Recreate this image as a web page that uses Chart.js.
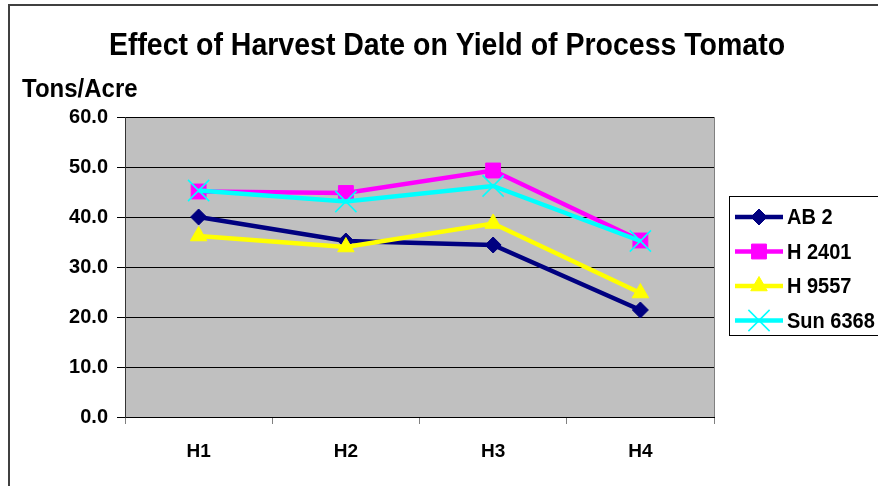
<!DOCTYPE html>
<html lang="en">
<head>
  <meta charset="UTF-8">
  <title>Effect of Harvest Date on Yield of Process Tomato</title>
  <script src="https://cdn.jsdelivr.net/npm/chart.js"></script>
  <style>
    body { margin: 0; background: #fff; }
    #wrap { width: 878px; height: 486px; }
  </style>
</head>
<body>
  <div id="wrap"><canvas id="yieldChart" width="878" height="486"></canvas></div>

<script>
  const harvests = ['H1', 'H2', 'H3', 'H4'];
  const ab2 = [40.0, 35.2, 34.4, 21.4];
  const h2401 = [45.1, 44.8, 49.3, 35.3];
  const h9557 = [36.2, 34.0, 38.7, 24.8];
  const sun6368 = [45.3, 43.1, 46.2, 35.2];
  const yTicks = [0, 10, 20, 30, 40, 50, 60];

  const FONT = "'Liberation Sans', Arial, sans-serif";

  // text in the original is a little taller than wide
  function tallText(c, txt, x, y, sy) {
    c.save();
    c.translate(x, y);
    c.scale(1, sy);
    c.fillText(txt, 0, 0);
    c.restore();
  }

  // background, frame, title, y label and legend
  const decor = {
    id: 'decor',
    beforeDraw(chart) {
      const c = chart.ctx, a = chart.chartArea;
      c.save();
      c.fillStyle = '#fff';
      c.fillRect(0, 0, chart.width, chart.height);
      c.fillStyle = '#C0C0C0';
      c.fillRect(a.left, a.top, a.right - a.left, a.bottom - a.top);
      c.strokeStyle = '#404040';
      c.lineWidth = 2;
      c.beginPath();
      c.moveTo(9, 490); c.lineTo(9, 5); c.lineTo(880, 5);
      c.stroke();
      c.restore();
    },
    afterDraw(chart) {
      const c = chart.ctx, a = chart.chartArea;
      c.save();
      c.strokeStyle = '#808080';
      c.lineWidth = 1;
      c.beginPath();
      c.moveTo(a.right + 0.5, a.top); c.lineTo(a.right + 0.5, a.bottom);
      c.stroke();

      c.fillStyle = '#000';
      c.textBaseline = 'alphabetic';
      c.font = 'bold 28.5px ' + FONT;
      c.textAlign = 'center';
      tallText(c, 'Effect of Harvest Date on Yield of Process Tomato', 447, 55, 1.12);
      c.font = 'bold 24px ' + FONT;
      c.textAlign = 'left';
      tallText(c, 'Tons/Acre', 22, 97, 1.08);

      // legend
      c.strokeStyle = '#000';
      c.lineWidth = 1;
      c.strokeRect(729.5, 196.5, 160, 139);
      c.font = 'bold 20px ' + FONT;
      c.textBaseline = 'middle';
      chart.data.datasets.forEach((ds, i) => {
        const y = 217 + i * 34.5;
        c.strokeStyle = ds.borderColor;
        c.lineWidth = ds.borderWidth;
        c.beginPath();
        c.moveTo(735, y); c.lineTo(783, y);
        c.stroke();
        c.fillStyle = ds.pointBackgroundColor;
        c.strokeStyle = ds.pointBorderColor;
        c.lineWidth = ds.pointBorderWidth;
        Chart.helpers.drawPoint(c, { pointStyle: ds.pointStyle, radius: ds.pointRadius, borderWidth: ds.pointBorderWidth, rotation: 0 }, 759, y);
        c.fillStyle = '#000';
        tallText(c, ds.label, 787, y + 1, 1.1);
      });
      c.restore();
    }
  };

  function series(label, values, color, style, radius, order) {
    return {
      label, data: values, order,
      borderColor: color, borderWidth: 4.5,
      pointStyle: style, pointRadius: radius, pointHoverRadius: radius,
      pointBackgroundColor: color, pointBorderColor: color,
      pointBorderWidth: style === 'crossRot' ? 1.5 : 1,
      tension: 0
    };
  }

  new Chart(document.getElementById('yieldChart'), {
    type: 'line',
    data: {
      labels: harvests,
      datasets: [
        series('AB 2', ab2, '#000080', 'rectRot', 8, 4),
        series('H 2401', h2401, '#FF00FF', 'rect', 10.5, 3),
        series('H 9557', h9557, '#FFFF00', 'triangle', 9.5, 2),
        series('Sun 6368', sun6368, '#00FFFF', 'crossRot', 15, 1)
      ]
    },
    options: {
      responsive: false,
      animation: false,
      events: [],
      layout: { padding: { top: 117, left: 0, right: 164, bottom: 0 } },
      plugins: { legend: { display: false }, title: { display: false }, tooltip: { enabled: false } },
      scales: {
        x: {
          offset: true,
          grid: { offset: true, drawOnChartArea: false, color: '#808080', tickLength: 7 },
          border: { color: '#000', width: 1 },
          ticks: { color: '#000', padding: 16, font: { family: FONT, size: 19, weight: 'bold' } },
          afterFit(scale) { scale.height = 69; }
        },
        y: {
          min: 0, max: 60,
          afterBuildTicks(scale) { scale.ticks = yTicks.map(v => ({ value: v })); },
          grid: { color: '#000', tickLength: 8 },
          border: { color: '#333', width: 1 },
          ticks: {
            color: '#000', padding: 9,
            font: { family: FONT, size: 20, weight: 'bold' },
            callback: v => Number(v).toFixed(1)
          },
          afterFit(scale) { scale.width = 125; }
        }
      }
    },
    plugins: [decor]
  });
</script>
</body>
</html>
